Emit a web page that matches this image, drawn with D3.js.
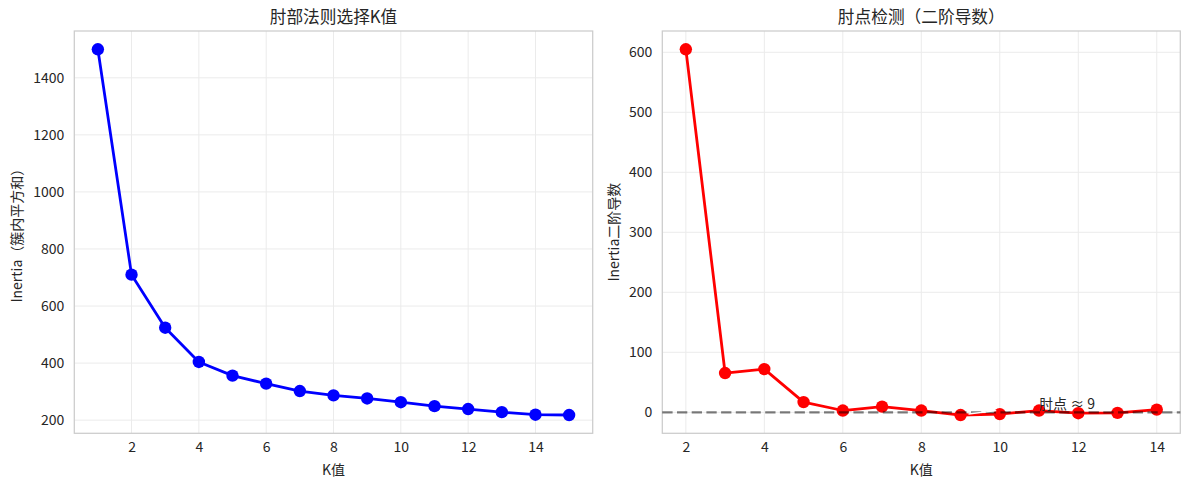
<!DOCTYPE html>
<html><head><meta charset="utf-8">
<script src="https://cdn.jsdelivr.net/npm/d3@7"></script>
<style>
html,body{margin:0;padding:0;background:#fff;}
svg text{font-family:"Noto Sans CJK SC","Noto Sans",sans-serif;fill:#262626;}
</style></head>
<body><svg id="c" width="1189" height="490"></svg>
<script>
// ---- data ----
const kValues = [1,2,3,4,5,6,7,8,9,10,11,12,13,14,15];
const inertia = [1500,710,524,404,356,328,302,287,276,263,249,239,228,219,218];
const kDeriv = [2,3,4,5,6,7,8,9,10,11,12,13,14];
const secondDeriv = [605,65.5,72,17,3,9.5,3,-4.5,-3,3,-1.5,-1,4.5];
const leftXTicks = [2,4,6,8,10,12,14];
const leftYTicks = [200,400,600,800,1000,1200,1400];
const rightXTicks = [2,4,6,8,10,12,14];
const rightYTicks = [0,100,200,300,400,500,600];
const titles = ["肘部法则选择K值","肘点检测（二阶导数）"];
const xLabel = "K值";
const yLabels = ["Inertia（簇内平方和）","Inertia二阶导数"];
const elbowK = 9;
const annotText = "肘点 ≈ 9";
const annotPos = [11, 5];

const svg = d3.select("#c");
const plotTop = 31, plotBottom = 433.3;

function pad(ext){const s=ext[1]-ext[0];return [ext[0]-0.05*s, ext[1]+0.05*s];}

function panel(cfg){
  const {x0,x1,xs,ys,xt,yt,color,title,ylab,ylabX} = cfg;
  const x = d3.scaleLinear().domain(pad(d3.extent(xs))).range([x0,x1]);
  const y = d3.scaleLinear().domain(pad(d3.extent(ys))).range([plotBottom,plotTop]);
  const g = svg.append("g");
  // grid
  g.append("g").selectAll("line").data(xt).join("line")
    .attr("x1",d=>x(d)).attr("x2",d=>x(d)).attr("y1",plotTop).attr("y2",plotBottom)
    .attr("stroke","#ebebeb").attr("stroke-width",1);
  g.append("g").selectAll("line").data(yt).join("line")
    .attr("y1",d=>y(d)).attr("y2",d=>y(d)).attr("x1",x0).attr("x2",x1)
    .attr("stroke","#ebebeb").attr("stroke-width",1);
  // axes with d3
  const xa = g.append("g").attr("transform",`translate(0,${plotBottom})`)
    .call(d3.axisBottom(x).tickValues(xt).tickSize(0).tickPadding(9).tickFormat(d3.format("d")));
  xa.select(".domain").remove();
  xa.selectAll("text").attr("font-size",14).attr("fill","#262626");
  const ya = g.append("g").attr("transform",`translate(${x0},0)`)
    .call(d3.axisLeft(y).tickValues(yt).tickSize(0).tickPadding(10).tickFormat(d3.format("d")));
  ya.select(".domain").remove();
  ya.selectAll("text").attr("font-size",14).attr("fill","#262626");
  // frame
  g.append("rect").attr("x",x0).attr("y",plotTop).attr("width",x1-x0).attr("height",plotBottom-plotTop)
    .attr("fill","none").attr("stroke","#cccccc").attr("stroke-width",1.25);
  // title & labels
  g.append("text").attr("x",(x0+x1)/2).attr("y",22.5).attr("text-anchor","middle")
    .attr("font-size",16.7).text(title);
  g.append("text").attr("x",(x0+x1)/2).attr("y",475).attr("text-anchor","middle")
    .attr("font-size",14).text(xLabel);
  g.append("text").attr("transform",`translate(${ylabX},${(plotTop+plotBottom)/2}) rotate(-90)`)
    .attr("text-anchor","middle").attr("font-size",14).text(ylab);
  const pts = xs.map((d,i)=>[d,ys[i]]);
  g.append("path").datum(pts)
    .attr("d",d3.line().x(d=>x(d[0])).y(d=>y(d[1])))
    .attr("fill","none").attr("stroke",color).attr("stroke-width",2.78).attr("stroke-linejoin","round");
  const marks = g.append("g");
  marks.selectAll("circle").data(pts).join("circle")
    .attr("cx",d=>x(d[0])).attr("cy",d=>y(d[1])).attr("r",6.2).attr("fill",color);
  return {x,y,g};
}

panel({x0:74.3,x1:592.7,xs:kValues,ys:inertia,xt:leftXTicks,yt:leftYTicks,color:"#0000ff",
  title:titles[0],ylab:yLabels[0],ylabX:22});
const R = panel({x0:662.3,x1:1180.3,xs:kDeriv,ys:secondDeriv,xt:rightXTicks,yt:rightYTicks,color:"#ff0000",
  title:titles[1],ylab:yLabels[1],ylabX:619});

// zero dashed line
R.g.append("line").attr("x1",662.3).attr("x2",1180.3).attr("y1",R.y(0)).attr("y2",R.y(0))
  .attr("stroke","#000").attr("stroke-opacity",0.5).attr("stroke-width",2.2).attr("stroke-dasharray","10.3,4.4");

// annotation arrow (white) and text
const ei = kDeriv.indexOf(elbowK);
const ax0 = R.x(kDeriv[ei]), ay0 = R.y(secondDeriv[ei]);
const ax1 = R.x(annotPos[0]), ay1 = R.y(annotPos[1]) - 4;
const dx = ax1-ax0, dy = ay1-ay0, L = Math.hypot(dx,dy);
R.g.append("line")
  .attr("x1",ax0+dx/L*8).attr("y1",ay0+dy/L*8).attr("x2",ax0+dx/L*36).attr("y2",ay0+dy/L*36)
  .attr("stroke","#ffffff").attr("stroke-width",1.4);
R.g.append("text").attr("x",R.x(annotPos[0])).attr("y",R.y(annotPos[1]))
  .attr("font-size",14).text(annotText);
</script></body></html>
